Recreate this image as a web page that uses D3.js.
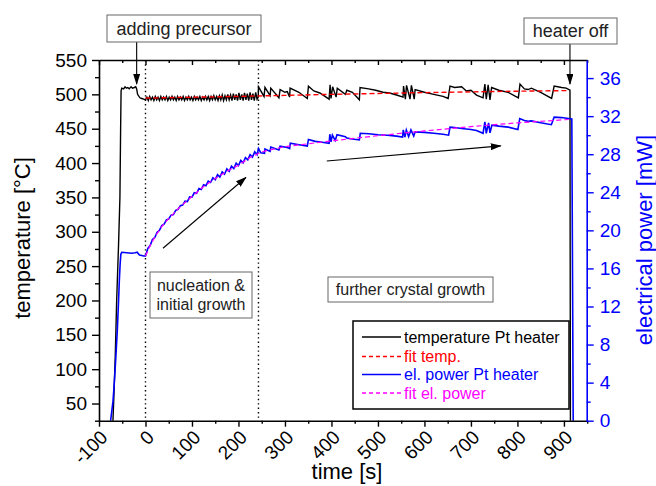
<!DOCTYPE html>
<html>
<head>
<meta charset="utf-8">
<script src="https://cdn.jsdelivr.net/npm/d3@7"></script>
<style>
  body { margin: 0; background: #fff; }
  svg { display: block; font-family: "Liberation Sans", Arial, sans-serif; }
</style>
</head>
<body>
<svg id="chart" width="656" height="486"></svg>
<script>
// ---- data: [time s, value] ----
const tempTrace = [
  [-72, 20], [-70, 25], [-68, 60], [-65, 120], [-62, 200], [-58, 280], [-55, 350], [-53.5, 450],
  [-52.5, 505], [-51, 509], [-47, 508], [-44, 511], [-41, 509], [-38, 510], [-35, 508], [-31, 511],
  [-28, 509], [-24, 510], [-21, 511], [-19, 508], [-17, 500], [-12, 495], [-8, 494], [-4, 493],
  [0, 492], [3, 496], [6, 491], [9, 497], [12, 492], [15, 496], [18, 491], [21, 497], [24, 492],
  [27, 496], [30, 491], [33, 497], [36, 492], [39, 496], [42, 492], [45, 497], [48, 491], [51, 496],
  [54, 492], [57, 497], [60, 492], [63, 496], [66, 491], [69, 497], [72, 492], [75, 496], [78, 492],
  [81, 497], [84, 491], [87, 496], [90, 492], [93, 497], [96, 492], [99, 496], [102, 491], [105, 497],
  [108, 492], [111, 496], [114, 492], [117, 497], [120, 491], [123, 496], [126, 492], [129, 497],
  [132, 492], [135, 497], [138, 491], [141, 497], [144, 492], [147, 498], [150, 492], [153, 497],
  [156, 491], [159, 498], [162, 492], [165, 499], [168, 491], [171, 498], [174, 492], [177, 500],
  [180, 492], [183, 499], [186, 491], [189, 501], [192, 492], [195, 500], [198, 491], [201, 502],
  [204, 492], [207, 500], [210, 491], [213, 502], [216, 492], [219, 501], [222, 491], [225, 503],
  [228, 492], [231, 501], [234, 491], [237, 503], [240, 493],
  [242.5, 496], [243, 511], [255, 497], [257, 510], [268, 498], [269.5, 509], [287, 495], [289.5, 507],
  [300, 503], [305, 504], [310, 496], [311, 509], [330, 503], [348, 494], [350.5, 512], [362, 505],
  [375, 502], [395, 493], [397, 514], [399, 494], [402.5, 511], [410, 496], [412.5, 509], [430, 500],
  [433, 506], [445, 503], [460, 492], [461.5, 510], [480, 508], [495, 506], [511, 503], [525, 502],
  [540, 499], [554, 496], [555, 512], [559, 493], [561.5, 513], [569, 493], [572, 513], [578, 493],
  [580, 507], [600, 503], [620, 500], [640, 497], [651, 494], [655, 512], [665, 510], [680, 511],
  [690, 505], [700, 506], [712, 499], [726, 495], [730, 515], [733, 493], [737, 514], [741, 492],
  [744.5, 510], [760, 506], [780, 503], [802, 495], [805.5, 515], [815, 508], [823, 507], [830, 509],
  [850, 503], [873.5, 494], [879, 512], [895, 510], [905, 509], [913, 506], [914, 20]
];

const fitTemp = [
  [0, 494.5], [100, 495.8], [200, 497], [300, 498.5], [400, 500], [500, 501.3],
  [600, 502.5], [700, 503.6], [800, 504.6], [910, 505.5]
];

const powerTrace = [
  [-77, -0.5], [-75, 0], [-70, 2], [-67.7, 3.5], [-64, 6.5], [-60.6, 9.5], [-58, 12.5], [-56.3, 14.7],
  [-54.5, 16.5], [-53, 17.5], [-51, 17.7], [-40, 17.65], [-30, 17.6], [-22, 17.65], [-18, 17.7],
  [-13, 17.4], [-8, 17.35], [-4, 17.3],
  [0, 17.3], [5, 18.1], [10, 18.4], [15, 19.05], [20, 19.25], [25, 19.8], [30, 20.0], [35, 20.5],
  [40, 20.65], [45, 21.1], [50, 21.2], [55, 21.6], [60, 21.65], [65, 22.1], [70, 22.2], [75, 22.6],
  [80, 22.65], [85, 23.07], [90, 23.03], [95, 23.52], [100, 23.48], [105, 23.95], [110, 23.9],
  [115, 24.4], [120, 24.3], [125, 24.8], [130, 24.7], [135, 25.17], [140, 25.03], [145, 25.52],
  [150, 25.33], [155, 25.85], [160, 25.6], [165, 26.15], [170, 25.9], [175, 26.45], [180, 26.2],
  [185, 26.75], [190, 26.5], [195, 27.05], [200, 26.8], [205, 27.35], [210, 27.1], [215, 27.65],
  [220, 27.4], [225, 27.95], [230, 27.7], [235, 28.25], [240, 27.95],
  [243, 28.6], [248, 28.15], [256, 28.1], [257, 28.55], [268, 28.3], [269.5, 28.75], [287, 28.45],
  [289.5, 28.85], [305, 28.7], [310, 28.6], [311.5, 29.15], [330, 29.0], [348, 28.85], [350.5, 29.55],
  [365, 29.35], [380, 29.25], [395, 29.15], [396.5, 30.1], [399, 29.3], [402, 30.0], [408, 29.45],
  [412, 30.05], [430, 29.85], [433, 29.7], [445, 29.6], [460, 29.5], [462, 30.2], [480, 30.15],
  [500, 30.05], [520, 30.0], [540, 29.9], [553, 29.8], [554.5, 30.55], [558, 29.8], [561, 30.55],
  [566, 29.85], [571, 30.55], [577, 29.9], [580, 30.35], [600, 30.3], [620, 30.2], [640, 30.1],
  [652, 30.0], [655, 30.85], [665, 30.8], [680, 30.7], [700, 30.6], [712, 30.5], [726, 30.2],
  [730, 31.4], [733, 30.2], [738, 31.3], [741, 30.25], [745, 31.05], [760, 30.95], [780, 30.85],
  [801, 30.6], [805, 31.75], [815, 31.55], [823, 31.45], [830, 31.5], [850, 31.3], [873, 31.1],
  [879, 31.9], [895, 31.85], [910, 31.75], [917, 31.7], [920, -0.5]
];

const fitPower = [
  [0, 17.3], [10, 18.4], [20, 19.3], [35, 20.4], [50, 21.25], [75, 22.5], [100, 23.55], [125, 24.6],
  [150, 25.45], [175, 26.2], [200, 26.85], [225, 27.65], [250, 28.25], [300, 28.8], [400, 29.4],
  [500, 29.95], [600, 30.45], [700, 30.9], [800, 31.3], [910, 31.65]
];

const phaseLines = [0, 243];          // dotted separators (s)
const xMajor = d3.range(-100, 901, 100);
const xMinor = d3.range(-50, 951, 100);
const tMajor = d3.range(50, 551, 50);
const tMinor = d3.range(25, 551, 50);
const pMajor = d3.range(0, 37, 4);
const pMinor = d3.range(2, 37, 4);

const legendItems = [
  { label: "temperature Pt heater", color: "#000", dash: null, text: "#000" },
  { label: "fit temp.", color: "#ff0000", dash: "4,3", text: "#ff0000" },
  { label: "el. power Pt heater", color: "#0000ff", dash: null, text: "#0000ff" },
  { label: "fit el. power", color: "#ff00ff", dash: "4,3", text: "#ff00ff" }
];

// ---- layout ----
const svg = d3.select("#chart");
const pL = 99, pR = 586.7, pT = 60, pB = 420.7;
const BLUE = "#0000ff";

const x = d3.scaleLinear().domain([-100, 949]).range([pL, pR]);
const yT = d3.scaleLinear().domain([25, 550]).range([pB, pT]);
const yP = d3.scaleLinear().domain([0, 37.9]).range([pB, pT]);

const defs = svg.append("defs");
defs.append("clipPath").attr("id", "plot")
  .append("rect").attr("x", pL).attr("y", pT).attr("width", pR - pL).attr("height", pB - pT);

const marker = defs.append("marker")
  .attr("id", "head").attr("markerUnits", "userSpaceOnUse")
  .attr("markerWidth", 11).attr("markerHeight", 7)
  .attr("refX", 10).attr("refY", 3.5).attr("orient", "auto");
marker.append("path").attr("d", "M0,0 L11,3.5 L0,7 Z").attr("fill", "#000");

// dotted separators
svg.append("g").selectAll("line").data(phaseLines).join("line")
  .attr("x1", d => x(d)).attr("x2", d => x(d))
  .attr("y1", pT).attr("y2", pB)
  .attr("stroke", "#000").attr("stroke-width", 1.4).attr("stroke-dasharray", "1.4,3");

// ---- traces ----
const plot = svg.append("g").attr("clip-path", "url(#plot)");
const lineT = d3.line().x(d => x(d[0])).y(d => yT(d[1]));
const lineP = d3.line().x(d => x(d[0])).y(d => yP(d[1]));

plot.append("path").datum(tempTrace).attr("d", lineT)
  .attr("fill", "none").attr("stroke", "#000").attr("stroke-width", 1.4);
plot.append("path").datum(fitTemp).attr("d", lineT)
  .attr("fill", "none").attr("stroke", "#ff0000").attr("stroke-width", 1.4).attr("stroke-dasharray", "5,3");
plot.append("path").datum(powerTrace).attr("d", lineP)
  .attr("fill", "none").attr("stroke", BLUE).attr("stroke-width", 1.6);
plot.append("path").datum(fitPower).attr("d", lineP)
  .attr("fill", "none").attr("stroke", "#ff00ff").attr("stroke-width", 1.2).attr("stroke-dasharray", "5,3");

// ---- axes ----
function styleAxis(g, color) {
  g.selectAll("path.domain").attr("stroke", color).attr("stroke-width", 1.6);
  g.selectAll(".tick line").attr("stroke", color).attr("stroke-width", 1.4);
  g.selectAll("text").attr("fill", color).attr("font-size", 19)
    .attr("font-family", "'Liberation Sans', Arial, sans-serif");
}

// bottom
const gx = svg.append("g").attr("transform", `translate(0,${pB})`)
  .call(d3.axisBottom(x).tickValues(xMajor).tickSize(6).tickSizeOuter(0).tickFormat(d => String(d)))
  .call(g => styleAxis(g, "#000"));
gx.selectAll("text")
  .attr("x", 0).attr("y", 0).attr("dy", "0.35em")
  .attr("text-anchor", "end")
  .attr("transform", "translate(4.5,13) rotate(-45)");
svg.append("g").attr("transform", `translate(0,${pB})`)
  .call(d3.axisBottom(x).tickValues(xMinor).tickSize(3).tickFormat(""))
  .call(g => { styleAxis(g, "#000"); g.select("path.domain").remove(); });

// top (mirror, inward)
svg.append("g").attr("transform", `translate(0,${pT})`)
  .call(d3.axisTop(x).tickValues(xMajor).tickSize(-5).tickSizeOuter(0).tickFormat(""))
  .call(g => styleAxis(g, "#000"));
svg.append("g").attr("transform", `translate(0,${pT})`)
  .call(d3.axisTop(x).tickValues(xMinor).tickSize(-3).tickFormat(""))
  .call(g => { styleAxis(g, "#000"); g.select("path.domain").remove(); });

// left temperature
svg.append("g").attr("transform", `translate(${pL},0)`)
  .call(d3.axisLeft(yT).tickValues(tMajor).tickSize(7).tickPadding(5).tickSizeOuter(0))
  .call(g => styleAxis(g, "#000"));
svg.append("g").attr("transform", `translate(${pL},0)`)
  .call(d3.axisLeft(yT).tickValues(tMinor).tickSize(4).tickFormat(""))
  .call(g => { styleAxis(g, "#000"); g.select("path.domain").remove(); });

// right power
svg.append("g").attr("transform", `translate(${pR},0)`)
  .call(d3.axisRight(yP).tickValues(pMajor).tickSize(7).tickPadding(6).tickSizeOuter(0))
  .call(g => styleAxis(g, BLUE));
svg.append("g").attr("transform", `translate(${pR},0)`)
  .call(d3.axisRight(yP).tickValues(pMinor).tickSize(4).tickFormat(""))
  .call(g => { styleAxis(g, BLUE); g.select("path.domain").remove(); });

// axis titles
svg.append("text").attr("transform", "translate(30,238) rotate(-90)")
  .attr("text-anchor", "middle").attr("font-size", 22).text("temperature [°C]");
svg.append("text").attr("transform", "translate(652,240) rotate(-90)")
  .attr("text-anchor", "middle").attr("font-size", 22).attr("fill", BLUE).text("electrical power [mW]");
svg.append("text").attr("x", 347).attr("y", 479)
  .attr("text-anchor", "middle").attr("font-size", 22).text("time [s]");

// ---- annotation boxes ----
function noteBox(x0, y0, w, h, lines, size) {
  const g = svg.append("g");
  g.append("rect").attr("x", x0).attr("y", y0).attr("width", w).attr("height", h)
    .attr("fill", "#fff").attr("stroke", "#666").attr("stroke-width", 1);
  const lh = size * 1.17;
  const y1 = y0 + h / 2 - (lines.length - 1) * lh / 2;
  lines.forEach((t, i) => {
    g.append("text").attr("x", x0 + w / 2).attr("y", y1 + i * lh).attr("dy", "0.35em")
      .attr("text-anchor", "middle").attr("font-size", size).attr("fill", "#222").text(t);
  });
}

function arrow(a, b) {
  svg.append("line")
    .attr("x1", a[0]).attr("y1", a[1]).attr("x2", b[0]).attr("y2", b[1])
    .attr("stroke", "#000").attr("stroke-width", 1.1).attr("marker-end", "url(#head)");
}

arrow([x(-19), 42], [x(-19), yT(515)]);
arrow([x(913), 44], [x(913), yT(515)]);
arrow([x(37.6), yT(276)], [x(216), yT(379)]);
arrow([x(390), yT(403)], [x(764), yT(425)]);

noteBox(107, 15, 154, 27, ["adding precursor"], 18);
noteBox(524, 18, 93, 26, ["heater off"], 18);
noteBox(150, 272, 102, 46, ["nucleation &", "initial growth"], 16);
noteBox(328, 277, 165, 25, ["further crystal growth"], 16);

// ---- legend ----
const lg = svg.append("g");
lg.append("rect").attr("x", 353).attr("y", 321).attr("width", 216).attr("height", 88)
  .attr("fill", "#fff").attr("stroke", "#000").attr("stroke-width", 1.5);
const rowY = [337, 356.5, 374.5, 393];
legendItems.forEach((d, i) => {
  lg.append("line").attr("x1", 362).attr("x2", 401).attr("y1", rowY[i]).attr("y2", rowY[i])
    .attr("stroke", d.color).attr("stroke-width", 1.6).attr("stroke-dasharray", d.dash);
  lg.append("text").attr("x", 404).attr("y", rowY[i]).attr("dy", "0.35em")
    .attr("font-size", 16).attr("fill", d.text).text(d.label);
});
</script>
</body>
</html>
